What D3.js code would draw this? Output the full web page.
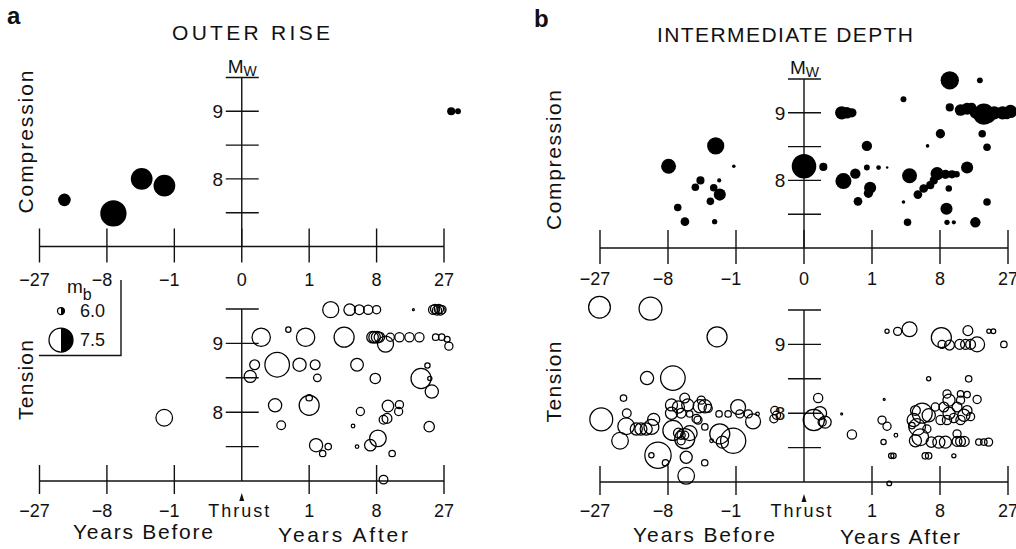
<!DOCTYPE html>
<html>
<head>
<meta charset="utf-8">
<script src="https://cdn.jsdelivr.net/npm/d3@7"></script>
<style>
  body { margin: 0; background: #fff; }
  svg text { font-family: "Liberation Sans", Arial, sans-serif; fill: #111; }
  .ax { stroke: #111; stroke-width: 1.4; }
</style>
</head>
<body>
<svg id="chart" width="1016" height="549"></svg>
<script>
const timeTicks = [-27, -8, -1, 0, 1, 8, 27];
const mwTicks = [7.5, 8, 8.5, 9, 9.5];
const mwLabels = [8, 9];
const legendMb = [6.0, 7.5];

// each point: [years relative to thrust event, Mw of thrust event, mb]
const outerCompression = [
  [-18.2, 7.69, 6.5], [-6.9, 7.49, 7.7], [-3.27, 8.0, 7.3], [-1.51, 7.9, 7.3],
  [30, 9.0, 6.1], [33, 9.0, 5.9]
];

const outerTension = [
  [2.3, 9.49, 6.8], [4.1, 9.49, 6.4], [5.3, 9.49, 6.25], [6.6, 9.49, 6.2], [8.0, 9.49, 6.1], [16.5, 9.49, 5.55],
  [22.9, 9.49, 6.2], [23.6, 9.5, 6.2], [24.3, 9.48, 6.2], [25.0, 9.5, 6.2], [25.6, 9.48, 6.2], [26.2, 9.49, 6.1],
  [0.024, 9.09, 7.0], [0.33, 9.2, 5.85], [0.85, 9.09, 7.0], [3.5, 9.09, 7.15],
  [7.3, 9.09, 6.4], [7.65, 9.09, 6.4], [8.1, 9.09, 6.4], [8.5, 9.09, 6.3],
  [9.7, 8.99, 6.8], [10.7, 9.09, 6.1], [12.8, 9.09, 6.2], [15.4, 9.09, 6.2], [18.3, 9.09, 6.2],
  [23.8, 9.09, 5.95], [26.1, 9.09, 5.95], [28.3, 9.06, 5.9], [29, 8.96, 6.1],
  [0.007, 8.69, 6.25], [0.145, 8.69, 7.55], [0.63, 8.69, 6.55], [1.29, 8.69, 6.25], [1.41, 8.5, 6.05],
  [5.0, 8.69, 6.5], [7.77, 8.49, 6.3], [20.9, 8.68, 5.85], [18.8, 8.49, 7.15], [21.7, 8.49, 5.75],
  [22.4, 8.3, 6.55], [0.002, 8.52, 6.45],
  [0.121, 8.1, 6.55], [1.0, 8.1, 7.15], [1.0, 8.21, 5.95], [0.2, 7.81, 6.15], [5.45, 8.01, 6.1],
  [4.5, 7.8, 5.7], [10.2, 8.09, 6.4], [12.8, 8.11, 6.1], [12.6, 8.01, 6.1], [10.0, 7.91, 6.25],
  [9.3, 7.89, 6.15], [21.5, 7.79, 6.3],
  [1.34, 7.52, 6.55], [2.11, 7.5, 5.95], [1.73, 7.4, 5.95], [5.0, 7.5, 5.7], [8.24, 7.62, 6.85],
  [6.94, 7.52, 6.4], [11.1, 7.4, 5.95], [9.3, 7.02, 6.15],
  [-1.52, 7.92, 6.85]
];

const interCompression = [
  [-7.9, 8.21, 6.7], [-2.19, 8.51, 6.9], [-1.1, 8.21, 5.7], [-3.53, 8.0, 6.1], [-4.08, 7.9, 6.05],
  [-1.94, 8.0, 5.75], [-2.34, 7.89, 6.05], [-1.9, 7.79, 6.45], [-2.61, 7.69, 6.05], [-6.4, 7.6, 6.05],
  [-5.37, 7.39, 6.15], [-2.27, 7.39, 5.85],
  [0.0, 8.21, 7.55], [0.023, 8.2, 6.1],
  [0.17, 9.0, 6.55], [0.25, 9.0, 6.4], [0.35, 9.0, 6.2], [0.79, 8.51, 6.3],
  [0.195, 7.99, 6.8], [0.43, 8.1, 6.3], [0.79, 8.19, 5.9], [1.32, 8.19, 5.8], [1.83, 8.19, 5.6],
  [0.92, 7.89, 6.45], [0.85, 7.81, 6.2], [0.5, 7.69, 6.15],
  [3.13, 9.2, 5.9], [9.85, 9.48, 7.0], [17.3, 9.48, 5.9], [9.85, 9.08, 6.1],
  [12.2, 9.04, 6.4], [13.8, 9.06, 6.45], [15.0, 9.08, 6.2], [16.1, 9.0, 6.45], [18.5, 8.98, 7.25],
  [20.0, 8.95, 6.6], [21.9, 9.0, 6.55], [24.9, 9.0, 6.55], [26.5, 8.98, 6.3], [28.0, 9.02, 6.55],
  [8.07, 8.69, 6.2], [18.0, 8.69, 6.05], [6.0, 8.51, 5.7], [19.5, 8.49, 6.05],
  [3.74, 8.07, 6.7], [7.5, 8.1, 6.55], [9.0, 8.09, 6.2], [10.3, 8.09, 6.1], [11.3, 8.09, 5.95], [13.8, 8.19, 6.45],
  [6.95, 8.0, 6.1], [6.4, 7.93, 6.1], [5.45, 7.88, 6.15], [4.7, 7.79, 6.15], [9.65, 7.88, 5.95],
  [3.13, 7.68, 5.7], [9.2, 7.58, 6.45], [19.5, 7.68, 6.05], [3.53, 7.38, 6.05], [9.3, 7.38, 5.85],
  [10.7, 7.38, 5.75], [16.0, 7.38, 6.3]
];

const interTension = [
  [-27.2, 9.54, 7.3], [-11.5, 9.52, 7.4], [-2.09, 9.11, 7.15], [-12.3, 8.51, 6.55], [-7.17, 8.51, 7.55],
  [-26.5, 7.91, 7.4], [-18.7, 8.22, 5.95], [-17.7, 8.0, 6.15], [-19.8, 7.6, 6.85], [-17.9, 7.81, 6.85],
  [-15.0, 7.77, 6.45], [-13.8, 7.77, 6.45], [-12.5, 7.77, 6.45], [-10.8, 7.91, 6.45], [-11.3, 7.8, 6.7],
  [-9.9, 7.39, 7.7], [-11.3, 7.39, 5.85], [-8.45, 7.28, 5.95], [-5.2, 7.09, 6.85], [-5.2, 7.36, 6.45], [-3.11, 7.28, 5.95],
  [-7.4, 8.12, 6.45], [-6.3, 8.09, 6.45], [-7.4, 8.0, 6.45], [-5.9, 8.0, 6.25], [-5.4, 8.22, 6.25], [-5.0, 8.12, 6.45],
  [-7.17, 7.75, 7.15], [-5.4, 7.63, 7.15], [-5.9, 7.68, 6.1], [-5.4, 7.68, 6.1],
  [-3.79, 7.9, 6.1], [-4.75, 7.99, 5.95], [-3.6, 8.1, 6.55], [-3.1, 8.1, 6.55], [-3.45, 8.19, 6.1], [-2.8, 8.07, 6.1],
  [-1.95, 7.99, 5.95], [-1.9, 7.7, 7.15], [-1.73, 7.58, 6.45], [-1.13, 7.6, 7.6], [-2.51, 7.6, 5.7],
  [-1.39, 7.99, 5.95], [-0.91, 8.09, 6.7], [-0.84, 7.99, 6.1], [-0.42, 7.88, 6.7], [-0.32, 7.99, 5.7], [-0.55, 7.99, 6.1],
  [-0.079, 8.04, 6.1], [-0.087, 7.92, 6.1], [-0.066, 7.97, 6.1],
  [-3.96, 7.92, 6.15], [-3.1, 7.8, 5.95], [-6.3, 7.71, 6.25], [-5.9, 7.6, 6.1], [-4.75, 7.71, 6.7],
  [0.003, 7.9, 7.25], [0.009, 8.22, 6.2], [0.013, 8.0, 6.55], [0.019, 7.87, 6.1], [0.03, 7.87, 6.45],
  [0.17, 7.99, 5.55], [0.35, 7.69, 6.2], [1.97, 6.98, 5.8],
  [1.82, 9.19, 5.75], [2.61, 9.19, 6.1], [3.74, 9.22, 6.7], [8.24, 9.1, 7.15], [8.37, 9.0, 6.1],
  [9.8, 8.99, 6.25], [12.0, 9.0, 6.25], [13.4, 9.0, 6.25], [14.7, 9.0, 6.25], [16.5, 9.0, 6.7], [14.0, 9.2, 6.25],
  [20.1, 9.19, 5.75], [21.6, 9.19, 5.8], [25.4, 9.0, 5.95],
  [6.16, 8.5, 5.75], [14.2, 8.5, 5.95],
  [1.64, 8.2, 5.55], [5.25, 8.0, 7.15], [4.6, 7.8, 6.85], [5.0, 7.65, 6.85], [7.2, 8.09, 6.1], [8.7, 8.09, 6.25],
  [9.7, 8.0, 6.45], [11.4, 8.09, 6.25], [12.2, 8.19, 6.1], [13.8, 8.04, 6.25], [16.5, 8.2, 6.1],
  [8.1, 7.9, 6.2], [9.3, 7.9, 6.2], [10.7, 7.93, 6.2], [12.2, 7.9, 6.2], [13.0, 7.97, 6.45], [14.7, 7.95, 6.1],
  [9.7, 8.19, 6.45], [6.17, 7.97, 6.55], [4.2, 7.9, 6.55], [4.0, 7.82, 5.95], [5.9, 7.77, 6.1], [4.4, 7.6, 6.45],
  [6.57, 7.58, 6.3], [7.8, 7.58, 6.45], [9.0, 7.58, 6.45], [11.4, 7.59, 6.25], [12.2, 7.59, 6.25], [13.1, 7.59, 6.25],
  [11.4, 7.7, 6.1], [17.0, 7.58, 5.95], [18.5, 7.58, 5.95], [20.0, 7.58, 6.1],
  [1.51, 7.9, 6.1], [1.82, 7.81, 6.1], [1.6, 7.58, 5.85], [2.47, 7.68, 5.7],
  [2.11, 7.38, 5.85], [2.28, 7.38, 5.85], [5.67, 7.38, 5.95], [6.16, 7.38, 5.95], [10.7, 7.38, 5.75],
  [9.3, 8.28, 6.1], [12.2, 8.28, 5.95], [13.8, 8.27, 5.95], [4.4, 8.04, 6.25]
];

const svg = d3.select("#chart");
const rScale = d3.scaleLinear().domain([6.0, 7.5]).range([3.5, 12]);
const radius = d => Math.max(0.9, rScale(d));
const fmt = d => d < 0 ? "\u2212" + (-d) : String(d);

function drawPanel(p) {
  const x = d3.scalePow().exponent(1 / 3).domain([-27, 27]).range(p.xRange);
  const yTop = d3.scaleLinear().domain([7, 9.5]).range(p.topRange);
  const yBot = d3.scaleLinear().domain([7, 9.5]).range(p.botRange);
  const x0 = x(0);
  const g = svg.append("g");

  // time axes (top plot: ticks cross the line, bottom plot: no tick at thrust)
  [[yTop, 18, 16, timeTicks], [yBot, 16, 13, timeTicks.filter(t => t !== 0)]].forEach(([y, up, down, ticks]) => {
    const yA = y(7);
    g.append("line").attr("class", "ax")
      .attr("x1", x(-27)).attr("x2", x(27)).attr("y1", yA).attr("y2", yA);
    g.selectAll(null).data(ticks).join("line").attr("class", "ax")
      .attr("x1", d => x(d)).attr("x2", d => x(d))
      .attr("y1", yA - up).attr("y2", yA + down);
  });

  // Mw axes
  [yTop, yBot].forEach(y => {
    g.append("line").attr("class", "ax")
      .attr("x1", x0).attr("x2", x0).attr("y1", y(9.5)).attr("y2", y(7));
    g.selectAll(null).data(mwTicks).join("line").attr("class", "ax")
      .attr("x1", x0 - 16).attr("x2", x0 + 17)
      .attr("y1", d => y(d)).attr("y2", d => y(d));
    g.selectAll(null).data(mwLabels).join("text")
      .attr("x", x0 - 24).attr("y", d => y(d)).attr("dy", "0.36em")
      .attr("text-anchor", "middle").attr("font-size", 19).text(d => d);
  });

  const mw = g.append("text").attr("x", x0 - 14).attr("y", yTop(9.5) - 5).attr("font-size", 19);
  mw.append("tspan").text("M");
  mw.append("tspan").attr("font-size", 14).attr("dy", 3).text("W");

  // tick labels between the plots and below
  g.selectAll(null).data(timeTicks).join("text")
    .attr("x", d => x(d) + (d < 0 ? -5 : 0)).attr("y", p.midY)
    .attr("text-anchor", "middle").attr("font-size", 18).text(fmt);
  g.selectAll(null).data(timeTicks).join("text")
    .attr("x", d => d === 0 ? x0 - 3 : x(d) + (d < 0 ? -5 : 0)).attr("y", 517)
    .attr("text-anchor", "middle").attr("font-size", 18)
    .attr("textLength", d => d === 0 ? 61 : null)
    .text(d => d === 0 ? "Thrust" : fmt(d));
  const yb = yBot(7);
  g.append("path").attr("fill", "#111")
    .attr("d", `M${x0},${yb + 12}L${x0 - 2.5},${yb + 20}L${x0 + 2.5},${yb + 20}Z`);

  // events
  g.selectAll(null).data(p.compression).join("circle")
    .attr("cx", d => x(d[0])).attr("cy", d => yTop(d[1])).attr("r", d => radius(d[2]))
    .attr("fill", "#000");
  g.selectAll(null).data(p.tension).join("circle")
    .attr("cx", d => x(d[0])).attr("cy", d => yBot(d[1])).attr("r", d => radius(d[2]))
    .attr("fill", "none").attr("stroke", "#000").attr("stroke-width", 1.25);

  // titles and labels
  g.append("text").attr("x", p.letter[0]).attr("y", p.letter[1])
    .attr("font-size", 24).attr("font-weight", "bold").text(p.letterText);
  g.append("text").attr("x", p.title[0]).attr("y", p.title[1]).attr("text-anchor", "middle")
    .attr("font-size", 21).attr("textLength", p.title[2]).attr("lengthAdjust", "spacing").text(p.titleText);
  [["Compression", p.comp], ["Tension", p.tens]].forEach(([txt, pos]) => {
    g.append("text").attr("transform", `translate(${pos[0]},${pos[1]}) rotate(-90)`)
      .attr("text-anchor", "middle").attr("font-size", 21)
      .attr("textLength", pos[2]).attr("lengthAdjust", "spacing").text(txt);
  });
  [["Years Before", p.before], ["Years After", p.after]].forEach(([txt, pos]) => {
    g.append("text").attr("x", pos[0]).attr("y", pos[1]).attr("text-anchor", "middle")
      .attr("font-size", 21).attr("textLength", pos[2]).attr("lengthAdjust", "spacing").text(txt);
  });
}

drawPanel({
  xRange: [39.5, 444], topRange: [246.5, 77.5], botRange: [481, 309], midY: 286,
  compression: outerCompression, tension: outerTension,
  letterText: "a", letter: [7, 24], titleText: "OUTER  RISE", title: [251, 40, 158],
  comp: [33, 142, 143], tens: [33, 380, 80], before: [143, 539, 140], after: [343, 542, 130]
});

drawPanel({
  xRange: [600, 1008], topRange: [248, 79], botRange: [482, 310], midY: 285,
  compression: interCompression, tension: interTension,
  letterText: "b", letter: [534, 27], titleText: "INTERMEDIATE DEPTH", title: [785, 42, 256],
  comp: [561, 160, 140], tens: [561, 382, 81], before: [704, 542, 142], after: [900, 544, 120]
});

// magnitude legend (panel a)
const leg = svg.append("g");
leg.append("path").attr("class", "ax").attr("fill", "none").attr("d", "M121,280V355.5H39");
const mb = leg.append("text").attr("x", 67).attr("y", 293).attr("font-size", 19);
mb.append("tspan").text("m");
mb.append("tspan").attr("font-size", 16).attr("dy", 7).text("b");
const legY = d3.scalePoint().domain(legendMb).range([311, 340]);
legendMb.forEach(m => {
  const r = rScale(m), cx = 61, cy = legY(m);
  leg.append("circle").attr("cx", cx).attr("cy", cy).attr("r", r)
    .attr("fill", "none").attr("stroke", "#000").attr("stroke-width", 1.25);
  leg.append("path").attr("fill", "#000")
    .attr("d", d3.arc()({ innerRadius: 0, outerRadius: r, startAngle: 0, endAngle: Math.PI }))
    .attr("transform", `translate(${cx},${cy})`);
  leg.append("text").attr("x", 80).attr("y", cy + 6).attr("font-size", 18).text(m.toFixed(1));
});
</script>
</body>
</html>
